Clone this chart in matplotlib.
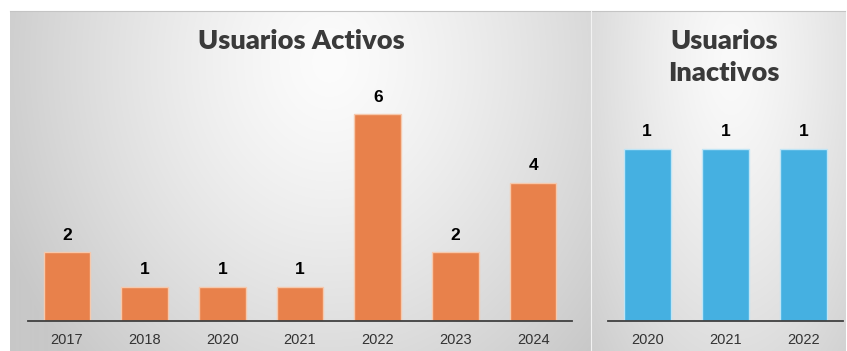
import numpy as np
import matplotlib
matplotlib.use("Agg")
import matplotlib.pyplot as plt

# Data
active_years = ["2017", "2018", "2020", "2021", "2022", "2023", "2024"]
active_users = [2, 1, 1, 1, 6, 2, 4]
inactive_years = ["2020", "2021", "2022"]
inactive_users = [1, 1, 1]

W, H = 847, 351
fig = plt.figure(figsize=(W / 100, H / 100), dpi=100)
fig.patch.set_facecolor("white")


def px_rect(x0, y0, x1, y1):
    """Convert a pixel box (top-left origin) to figure fractions."""
    return [x0 / W, 1 - y1 / H, (x1 - x0) / W, (y1 - y0) / H]


def gradient_panel(rect, cx, cy, rx, ry, c_in, c_out):
    ax = fig.add_axes(px_rect(*rect), zorder=0)
    w = int(rect[2] - rect[0])
    h = int(rect[3] - rect[1])
    xs = np.linspace(0, 1, w)
    ys = np.linspace(0, 1, h)
    X, Y = np.meshgrid(xs, ys)
    r = np.sqrt(((X - cx) / rx) ** 2 + ((Y - cy) / ry) ** 2)
    t = np.clip(r, 0, 1) ** 1.3
    c_in = np.array(c_in) / 255.0
    c_out = np.array(c_out) / 255.0
    img = c_in[None, None, :] * (1 - t[..., None]) + c_out[None, None, :] * t[..., None]
    ax.imshow(img, aspect="auto", extent=(0, 1, 0, 1), origin="upper")
    ax.set_xlim(0, 1)
    ax.set_ylim(0, 1)
    ax.axis("off")
    return ax


# Panel backgrounds
gradient_panel((10, 11, 590, 351), 0.55, 0.15, 0.62, 1.25, (252, 252, 252), (200, 200, 200))
gradient_panel((591, 11, 845, 351), 0.55, 0.15, 0.75, 1.25, (250, 250, 250), (205, 205, 205))
fig.add_artist(plt.Line2D([10 / W, 845 / W], [1 - 11 / H, 1 - 11 / H],
                          transform=fig.transFigure, color="#c4c4c4", lw=0.8, zorder=1))
fig.add_artist(plt.Line2D([591 / W, 591 / W], [0, 1 - 11 / H],
                          transform=fig.transFigure, color="#f2f2f2", lw=0.8, zorder=1))

ORANGE = "#E8814B"
BLUE = "#45B0E1"
AXIS = "#404040"
TEXT = "#404040"


def bar_axes(rect, cats, vals, ymax, color, edge):
    ax = fig.add_axes(px_rect(*rect), zorder=2)
    ax.patch.set_alpha(0)
    x = np.arange(len(cats))
    bars = ax.bar(x, vals, width=0.6, color=color, edgecolor=edge, linewidth=1.0)
    ax.set_xlim(-0.5, len(cats) - 0.5)
    ax.set_ylim(0, ymax)
    for s in ("top", "right", "left"):
        ax.spines[s].set_visible(False)
    ax.spines["bottom"].set_color(AXIS)
    ax.spines["bottom"].set_linewidth(1.3)
    ax.set_yticks([])
    ax.set_xticks(x)
    ax.set_xticklabels(cats, family="Liberation Sans", fontsize=10.5, color="#333333")
    ax.tick_params(axis="x", length=0, pad=8.5)
    for b, v in zip(bars, vals):
        ax.annotate(str(v), (b.get_x() + b.get_width() / 2, v),
                    xytext=(0, 9), textcoords="offset points",
                    ha="center", va="baseline", fontsize=12.5, fontweight="bold",
                    family="Liberation Sans", color="black")
    return ax


# Left chart: 1 unit = 34.5 px, baseline at y=321
bar_axes((28, 321 - 7 * 34.5, 572, 321), active_years, active_users, 7, ORANGE, "#f6c9ad")
# Right chart: 1 unit = 172 px
bar_axes((608, 321 - 1.3 * 172, 843, 321), inactive_years, inactive_users, 1.3, BLUE, "#bfe5f6")

# Titles
title_kw = dict(ha="center", va="center", fontsize=19.5, fontweight="heavy",
                family="Lato", color="#3a3a3a", zorder=3)
fig.text(301 / W, 1 - 41 / H, "Usuarios Activos", **title_kw)
fig.text(724 / W, 1 - 41 / H, "Usuarios", **title_kw)
fig.text(724 / W, 1 - 73 / H, "Inactivos", **title_kw)

fig.savefig("out.png", dpi=100, facecolor=fig.get_facecolor())
